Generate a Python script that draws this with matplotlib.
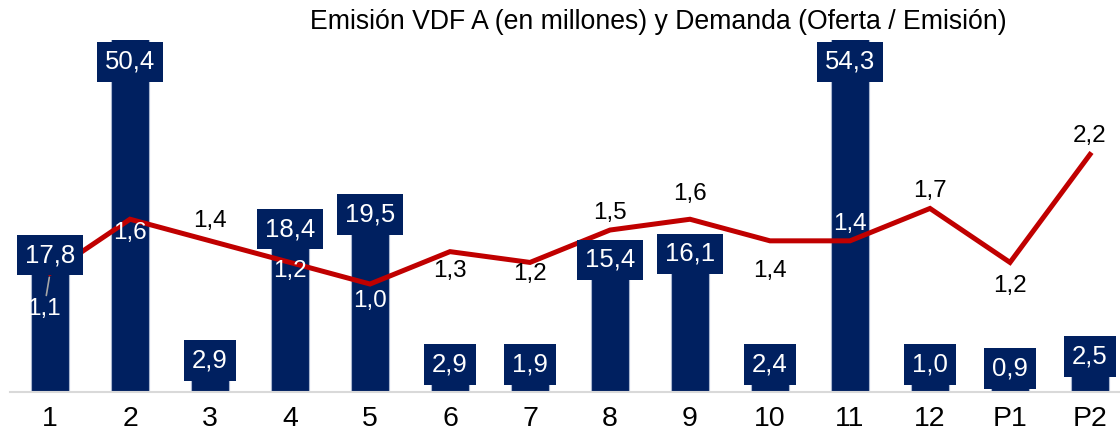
import matplotlib
matplotlib.use("Agg")
import matplotlib.pyplot as plt

categories = ["1", "2", "3", "4", "5", "6", "7", "8", "9", "10", "11", "12", "P1", "P2"]
emision = [17.8, 50.4, 2.9, 18.4, 19.5, 2.9, 1.9, 15.4, 16.1, 2.4, 54.3, 1.0, 0.9, 2.5]
demanda = [1.1, 1.6, 1.4, 1.2, 1.0, 1.3, 1.2, 1.5, 1.6, 1.4, 1.4, 1.7, 1.2, 2.2]

# layout / style (not data)
bar_label_up = [-16, 0, 4, 5, 10, 0, 0, 0, 0, 0, 0, 0, -4, 8]  # px, positive = up
line_label_dy = [-36, -14, 20, -9, -17, -19, -12, 17, 25, -30, 17, 17, -24, 18]  # px
line_label_dx = [-6, 0, 0, 0, 0, 0, 0, 0, 0, 0, 0, 0, 0, 0]
line_label_white = [True, True, False, True, True, False, False, False, False, False, True, False, False, False]

NAVY = "#002060"
RED = "#C00000"
FONT = "Liberation Sans"
plt.rcParams["font.family"] = [FONT, "DejaVu Sans"]

W, H = 1120, 438
DPI = 100
fig = plt.figure(figsize=(W / DPI, H / DPI), dpi=DPI)

top_px, base_px = 40, 392
ax = fig.add_axes([10 / W, (H - base_px) / H, 1110 / W, (base_px - top_px) / H])
ax2 = ax.twinx()

x = list(range(len(categories)))
Y1MAX = 41.0
Y2MAX = 3.26
ax.bar(x, emision, width=0.475, color=NAVY, edgecolor="#A9B6CF", linewidth=0.8, zorder=2)
ax.set_xlim(-0.5, 13.375)
ax.set_ylim(0, Y1MAX)
ax2.set_ylim(0, Y2MAX)

ax2.plot(x, demanda, color=RED, linewidth=3.6, solid_joinstyle="miter", zorder=3)

for a in (ax, ax2):
    for s in ("top", "right", "left"):
        a.spines[s].set_visible(False)
    a.set_yticks([])
ax2.spines["bottom"].set_visible(False)
ax.spines["bottom"].set_color("#D9D9D9")
ax.spines["bottom"].set_linewidth(1.5)
ax.set_xticks(x)
ax.set_xticklabels(categories, fontsize=20.5, color="black")
ax.tick_params(axis="x", length=0, pad=10)

# bar labels (drawn above the line)
px_per_unit = (base_px - top_px) / Y1MAX
for xi, v, up in zip(x, emision, bar_label_up):
    yc = min(max(v, 3.2), Y1MAX - 22 / px_per_unit)
    ax2.annotate(f"{v:.1f}".replace(".", ","), xy=(xi, yc), xycoords=ax.transData,
                 xytext=(0, up * 0.72), textcoords="offset points",
                 ha="center", va="center", fontsize=18.5, color="white", zorder=6,
                 bbox=dict(boxstyle="square,pad=0.32", facecolor=NAVY, edgecolor="none"))

# line labels
for xi, v, dy, dx, wht in zip(x, demanda, line_label_dy, line_label_dx, line_label_white):
    lab = f"{v:.1f}".replace(".", ",")
    kw = {}
    if xi == 0:
        kw["arrowprops"] = dict(arrowstyle="-", color="#A6A6A6", lw=1.2, shrinkA=0, shrinkB=3)
    ax2.annotate(lab, xy=(xi, v), xytext=(dx * 0.72, dy * 0.72), textcoords="offset points",
                 ha="center", va="center", fontsize=17.5,
                 color="white" if wht else "black", zorder=7, **kw)

fig.text(658 / W, 1 - 22 / H, "Emisión VDF A (en millones) y Demanda (Oferta / Emisión)",
         ha="center", va="center", fontsize=19.2, color="black")

fig.savefig("out.png", dpi=DPI)
